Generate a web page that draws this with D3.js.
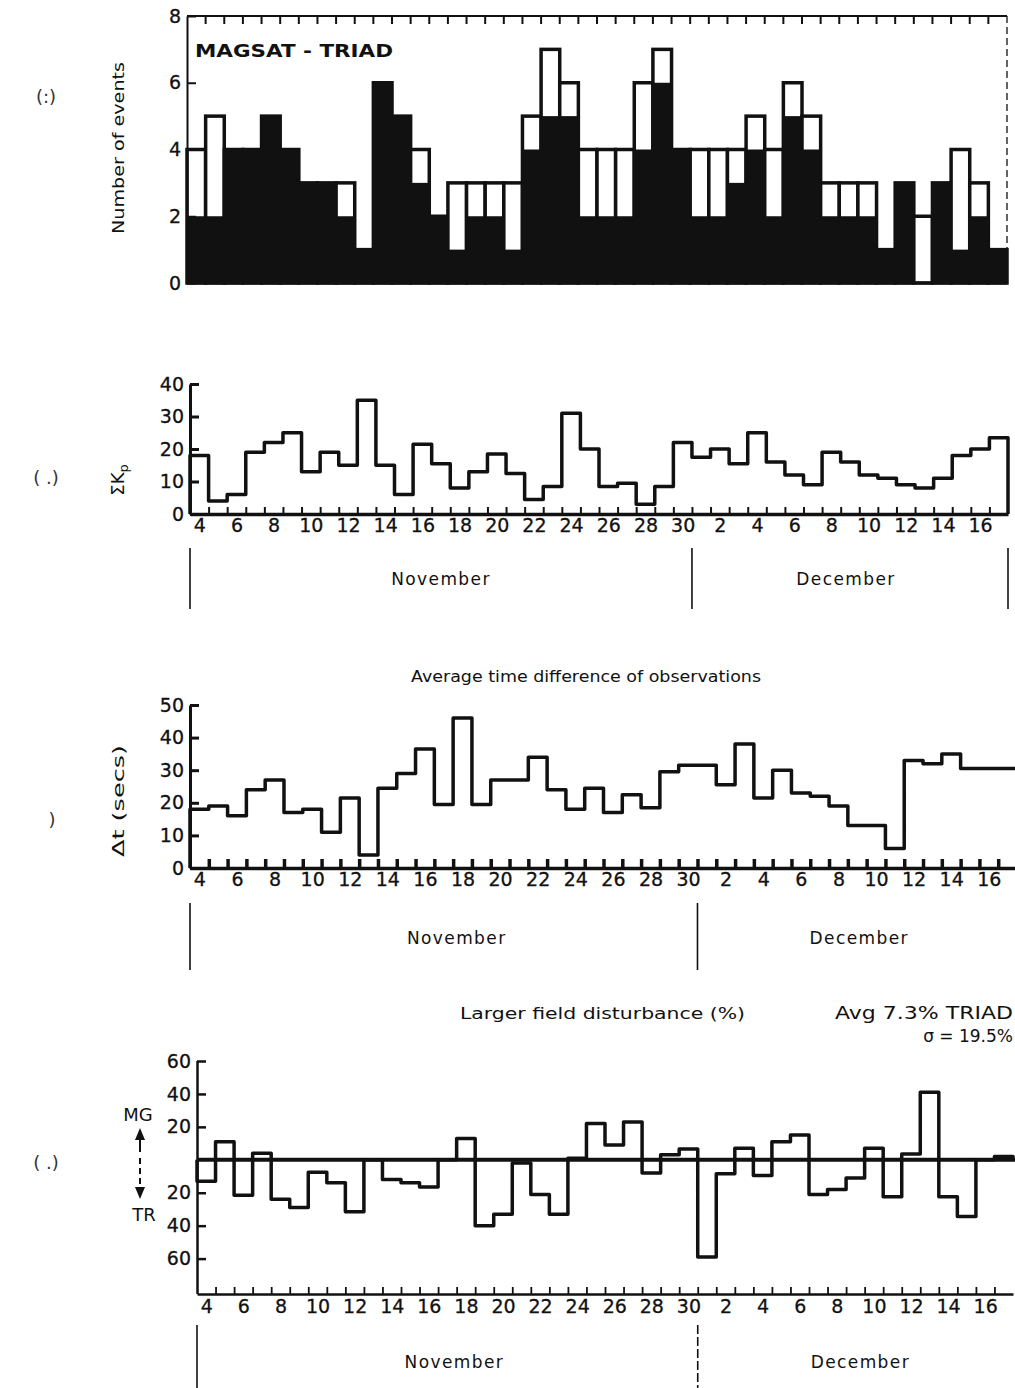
<!DOCTYPE html>
<html>
<head>
<meta charset="utf-8">
<script src="https://cdn.jsdelivr.net/npm/d3@7"></script>
<style>
  body { margin: 0; background: #fff; }
  text { font-family: "DejaVu Sans", "Liberation Sans", sans-serif; fill: #111; }
</style>
</head>
<body>
<div id="chart"></div>
<script>
// Days 4 November .. 17 December
const dayNumbers = [4,5,6,7,8,9,10,11,12,13,14,15,16,17,18,19,20,21,22,23,24,25,26,27,28,29,30,
                    1,2,3,4,5,6,7,8,9,10,11,12,13,14,15,16,17];
const monthNames = ["November", "December"];
const monthBreaks = [0, 27, 44];

// Panel 1: number of events (total outline, black = MAGSAT part)
const eventsTotal = [4,5,4,4,5,4,3,3,3,1,6,5,4,2,3,3,3,3,5,7,6,4,4,4,6,7,4,
                     4,4,4,5,4,6,5,3,3,3,1,3,2,3,4,3,1];
const eventsBlack = [2,2,4,4,5,4,3,3,2,1,6,5,3,2,1,2,2,1,4,5,5,2,2,2,4,6,4,
                     2,2,3,4,2,5,4,2,2,2,1,3,0,3,1,2,1];

// Panel 2: sum Kp
const sumKp = [18,4,6,19,22,25,13,19,15,35,15,6,21.5,15.5,8,13,18.5,12.5,4.5,8.5,31,
               20,8.5,9.5,3,8.5,22,
               17.5,20,15.5,25,16,12,9,19,16,12,11,9,8,11,18,20,23.5];

// Panel 3: average time difference (secs)
const timeDiff = [18,19,16,24,27,17,18,11,21.5,4,24.5,29,36.5,19.5,46,19.5,27,27,34,24,18,
                  24.5,17,22.5,18.5,29.5,31.5,
                  31.5,25.5,38,21.5,30,23,22,19,13,13,6,33,32,35,30.5,30.5,30.5];

// Panel 4: larger field disturbance (%), + = MG, - = TR
const fieldDist = [-13,11,-21.5,4,-24,-29,-7.5,-14,-31.5,0,-12,-14,-16.5,0,13,-40,-33,-2,-21,-33,1,
                   22,9,23,-8,3,6.5,
                   -59,-8.5,7,-9.5,11,15,-21,-18,-11,7,-22.5,3.5,41,-22.5,-34.5,0,2];

const nDays = dayNumbers.length;
const ink = "#111";

const svg = d3.select("#chart")
    .append("svg")
    .attr("width", 1015)
    .attr("height", 1388);

// step outline through the day values
function stepLine(x, y) {
    return d3.line()
        .x(d => x(d[0]))
        .y(d => y(d[1]))
        .curve(d3.curveStepAfter);
}
function stepPoints(values) {
    const pts = [[0, 0]];
    values.forEach((v, i) => pts.push([i, v]));
    pts.push([values.length, values[values.length - 1]]);
    pts.push([values.length, 0]);
    return pts;
}

// left axis with inward ticks
function leftAxis(y, x0, ticks, fmt, width) {
    const g = svg.append("g")
        .attr("transform", `translate(${x0},0)`)
        .call(d3.axisLeft(y).tickValues(ticks).tickSize(-9).tickSizeOuter(0)
            .tickPadding(6).tickFormat(fmt));
    g.select(".domain").attr("stroke", ink).attr("stroke-width", width);
    g.selectAll(".tick line").attr("stroke", ink).attr("stroke-width", width);
    g.selectAll(".tick text").attr("font-size", 19).attr("fill", ink)
        .attr("stroke", ink).attr("stroke-width", 0.3);
    return g;
}

// bottom axis: day boundary ticks, labels on every other day, month band
function bottomAxis(x, y0, opts) {
    const g = svg.append("g")
        .attr("transform", `translate(0,${y0})`)
        .call(d3.axisBottom(x).tickValues(d3.range(1, nDays)).tickSize(-opts.tick)
            .tickSizeOuter(0).tickFormat(""));
    g.select(".domain").attr("stroke", ink).attr("stroke-width", opts.width);
    g.selectAll(".tick line").attr("stroke", ink).attr("stroke-width", opts.tickWidth);

    const labelIdx = d3.range(0, nDays, 2);
    const lab = svg.append("g")
        .attr("transform", `translate(0,${y0})`)
        .call(d3.axisBottom(x).tickValues(labelIdx.map(i => i + 0.5))
            .tickSize(0).tickPadding(opts.pad)
            .tickFormat(d => dayNumbers[Math.round(d - 0.5)]));
    lab.select(".domain").remove();
    lab.selectAll("text").attr("font-size", 19).attr("fill", ink)
        .attr("stroke", ink).attr("stroke-width", 0.3);

    // month separators and names
    svg.selectAll(null)
        .data(opts.sepIdx)
        .join("line")
        .attr("x1", d => x(monthBreaks[d])).attr("x2", d => x(monthBreaks[d]))
        .attr("y1", opts.bandTop).attr("y2", opts.bandBottom)
        .attr("stroke", ink).attr("stroke-width", 1.6)
        .attr("stroke-dasharray", d => d === 1 && opts.dashMid ? "9,3" : null);
    svg.selectAll(null)
        .data(monthNames)
        .join("text")
        .attr("x", (d, i) => x((monthBreaks[i] + monthBreaks[i + 1]) / 2) + opts.monthShift[i])
        .attr("y", opts.monthY)
        .attr("text-anchor", "middle")
        .attr("font-size", 17)
        .attr("letter-spacing", 1.4)
        .text(d => d);
}

function sideLabel(txt, x, y) {
    svg.append("text")
        .attr("x", x).attr("y", y)
        .attr("text-anchor", "middle")
        .attr("font-size", 18)
        .style("fill", "#333")
        .text(txt);
}

// ---------------- Panel 1 ----------------
const x1 = d3.scaleLinear().domain([0, nDays]).range([187, 1007]);
const y1 = d3.scaleLinear().domain([0, 8]).range([283, 16]);

svg.append("g").selectAll("rect")
    .data(eventsTotal)
    .join("rect")
    .attr("x", (d, i) => x1(i))
    .attr("width", (d, i) => x1(i + 1) - x1(i))
    .attr("y", d => y1(d))
    .attr("height", d => y1(0) - y1(d))
    .attr("fill", "#fff")
    .attr("stroke", ink)
    .attr("stroke-width", 3.5);

svg.append("g").selectAll("rect")
    .data(eventsBlack)
    .join("rect")
    .attr("x", (d, i) => x1(i) - 0.5)
    .attr("width", (d, i) => x1(i + 1) - x1(i) + 1)
    .attr("y", d => y1(d))
    .attr("height", d => y1(0) - y1(d))
    .attr("fill", ink);

// frame: top with ticks, dashed right, left axis
svg.append("line")
    .attr("x1", x1(0)).attr("x2", x1(nDays))
    .attr("y1", y1(8)).attr("y2", y1(8))
    .attr("stroke", ink).attr("stroke-width", 2);
svg.append("g").selectAll("line")
    .data(d3.range(1, nDays))
    .join("line")
    .attr("x1", d => x1(d)).attr("x2", d => x1(d))
    .attr("y1", y1(8)).attr("y2", y1(8) + 8)
    .attr("stroke", ink).attr("stroke-width", 2);
svg.append("line")
    .attr("x1", x1(nDays)).attr("x2", x1(nDays))
    .attr("y1", y1(8)).attr("y2", y1(0))
    .attr("stroke", ink).attr("stroke-width", 1.3)
    .attr("stroke-dasharray", "7,4");
svg.append("line")
    .attr("x1", x1(0)).attr("x2", x1(nDays))
    .attr("y1", y1(0)).attr("y2", y1(0))
    .attr("stroke", ink).attr("stroke-width", 3);
leftAxis(y1, x1(0), [0, 2, 4, 6, 8], d3.format("d"), 2);

svg.append("text")
    .attr("x", 195).attr("y", 57)
    .attr("font-size", 18).attr("font-weight", "bold")
    .attr("textLength", 198).attr("lengthAdjust", "spacingAndGlyphs")
    .text("MAGSAT - TRIAD");
svg.append("text")
    .attr("transform", "translate(124,148) rotate(-90)")
    .attr("text-anchor", "middle")
    .style("font-family", "'DejaVu Sans Condensed', 'Liberation Sans Narrow', sans-serif")
    .attr("font-size", 16)
    .attr("textLength", 172).attr("lengthAdjust", "spacingAndGlyphs")
    .text("Number of events");
sideLabel("(:)", 46, 103);

// ---------------- Panel 2 ----------------
const x2 = d3.scaleLinear().domain([0, nDays]).range([190, 1008]);
const y2 = d3.scaleLinear().domain([0, 40]).range([514, 384]);

svg.append("path")
    .datum(stepPoints(sumKp))
    .attr("d", stepLine(x2, y2))
    .attr("fill", "none").attr("stroke", ink)
    .attr("stroke-width", 3.5).attr("stroke-linejoin", "round");
leftAxis(y2, x2(0), [0, 10, 20, 30, 40], d3.format("d"), 3);
bottomAxis(x2, 514, {tick: 7, width: 3.5, tickWidth: 2, pad: 5,
    sepIdx: [0, 1, 2], bandTop: 548, bandBottom: 609, monthY: 585,
    monthShift: [0, -4], dashMid: false});

const kp = svg.append("text")
    .attr("transform", "translate(124,480) rotate(-90)")
    .attr("text-anchor", "middle")
    .attr("font-size", 18);
kp.append("tspan").text("ΣK");
kp.append("tspan").attr("font-size", 13).attr("dy", 4).text("p");
sideLabel("( .)", 46, 484);

// ---------------- Panel 3 ----------------
const x3 = d3.scaleLinear().domain([0, nDays]).range([190, 1017]);
const y3 = d3.scaleLinear().domain([0, 50]).range([868, 705]);

svg.append("path")
    .datum(stepPoints(timeDiff))
    .attr("d", stepLine(x3, y3))
    .attr("fill", "none").attr("stroke", ink)
    .attr("stroke-width", 3.5).attr("stroke-linejoin", "round");
leftAxis(y3, x3(0), [0, 10, 20, 30, 40, 50], d3.format("d"), 3);
bottomAxis(x3, 868, {tick: 9, width: 3.5, tickWidth: 3.5, pad: 5,
    sepIdx: [0, 1], bandTop: 903, bandBottom: 970, monthY: 944,
    monthShift: [13, 2], dashMid: false});

svg.append("text")
    .attr("x", 586).attr("y", 682)
    .attr("text-anchor", "middle")
    .attr("font-size", 16)
    .attr("textLength", 350).attr("lengthAdjust", "spacingAndGlyphs")
    .text("Average time difference of observations");
svg.append("text")
    .attr("transform", "translate(124,801) rotate(-90)")
    .attr("text-anchor", "middle")
    .style("font-family", "'DejaVu Sans Condensed', 'Liberation Sans Narrow', sans-serif")
    .attr("font-size", 15)
    .attr("textLength", 112).attr("lengthAdjust", "spacingAndGlyphs")
    .text("Δt (secs)");
sideLabel(")", 52, 826);

// ---------------- Panel 4 ----------------
const x4 = d3.scaleLinear().domain([0, nDays]).range([197, 1013]);
const y4 = d3.scaleLinear().domain([-81.5, 60]).range([1294, 1061]);

svg.append("line")
    .attr("x1", x4(0)).attr("x2", 1015)
    .attr("y1", y4(0)).attr("y2", y4(0))
    .attr("stroke", ink).attr("stroke-width", 4);
svg.append("path")
    .datum(stepPoints(fieldDist))
    .attr("d", stepLine(x4, y4))
    .attr("fill", "none").attr("stroke", ink)
    .attr("stroke-width", 3.5).attr("stroke-linejoin", "round");

const ax4 = leftAxis(y4, x4(0), [-60, -40, -20, 20, 40, 60], d => Math.abs(d), 2.5);
// stretch the left axis down to the bottom axis
ax4.select(".domain").attr("d", `M0.5,${y4(60)}V${y4(-81.5)}`);
bottomAxis(x4, 1294, {tick: 7, width: 2.5, tickWidth: 1.8, pad: 6,
    sepIdx: [0, 1], bandTop: 1325, bandBottom: 1388, monthY: 1368,
    monthShift: [7, 5], dashMid: true});

svg.append("text")
    .attr("x", 460).attr("y", 1019)
    .attr("font-size", 16)
    .attr("textLength", 285).attr("lengthAdjust", "spacingAndGlyphs")
    .text("Larger field disturbance (%)");
svg.append("text")
    .attr("x", 835).attr("y", 1019)
    .attr("font-size", 17)
    .attr("textLength", 178).attr("lengthAdjust", "spacingAndGlyphs")
    .text("Avg 7.3% TRIAD");
svg.append("text")
    .attr("x", 1013).attr("y", 1042)
    .attr("text-anchor", "end")
    .attr("font-size", 17)
    .text("σ = 19.5%");

// MG / TR direction marks
svg.append("text").attr("x", 138).attr("y", 1121)
    .attr("text-anchor", "middle").attr("font-size", 18).text("MG");
svg.append("text").attr("x", 144).attr("y", 1221)
    .attr("text-anchor", "middle").attr("font-size", 18).text("TR");
svg.append("line")
    .attr("x1", 140).attr("x2", 140).attr("y1", 1136).attr("y2", 1152)
    .attr("stroke", ink).attr("stroke-width", 2);
svg.append("line")
    .attr("x1", 140).attr("x2", 140).attr("y1", 1158).attr("y2", 1190)
    .attr("stroke", ink).attr("stroke-width", 2).attr("stroke-dasharray", "6,4");
svg.append("path")
    .attr("d", "M140,1128 L135,1140 L145,1140 Z M140,1199 L135,1187 L145,1187 Z")
    .attr("fill", ink);
sideLabel("( .)", 46, 1169);
</script>
</body>
</html>
